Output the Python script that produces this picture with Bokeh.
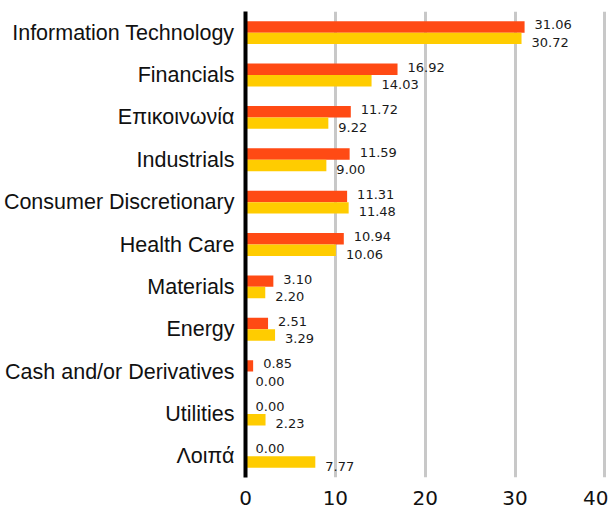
from bokeh.plotting import figure
from bokeh.models import ColumnDataSource, FactorRange, Range1d, FixedTicker
from bokeh.transform import dodge
from bokeh.embed import file_html
from bokeh.resources import INLINE
from bokeh.core.properties import value

categories = ["Information Technology", "Financials", "Επικοινωνία", "Industrials",
              "Consumer Discretionary", "Health Care", "Materials", "Energy",
              "Cash and/or Derivatives", "Utilities", "Λοιπά"]
series_a = [31.06, 16.92, 11.72, 11.59, 11.31, 10.94, 3.10, 2.51, 0.85, 0.00, 0.00]
series_b = [30.72, 14.03, 9.22, 9.00, 11.48, 10.06, 2.20, 3.29, 0.00, 2.23, 7.77]
x_ticks = [0, 10, 20, 30, 40]

src = ColumnDataSource(dict(
    cat=categories, a=series_a, b=series_b,
    la=["%.2f" % v for v in series_a], lb=["%.2f" % v for v in series_b],
))

p = figure(width=608, height=508, output_backend="svg", toolbar_location=None,
           y_range=FactorRange(*reversed(categories), range_padding=0),
           x_range=Range1d(0, 40.4))
p.min_border_left = 0
p.min_border_right = 0
p.min_border_top = 11
p.min_border_bottom = 31
p.outline_line_color = None

p.hbar(y=dodge("cat", 0.135, range=p.y_range), left=0, right="a", height=0.27,
       source=src, color="#FF4A14", line_color=None)
p.hbar(y=dodge("cat", -0.135, range=p.y_range), left=0, right="b", height=0.27,
       source=src, color="#FFCC00", line_color=None)

p.text(x="a", y=dodge("cat", 0.135, range=p.y_range), text="la", source=src,
       x_offset=10, y_offset=-2, text_baseline="middle", text_align="left",
       text_font=value("DejaVu Sans"), text_font_size="13px", text_color="#1a1a1a")
p.text(x="b", y=dodge("cat", -0.135, range=p.y_range), text="lb", source=src,
       x_offset=10, y_offset=4, text_baseline="middle", text_align="left",
       text_font=value("DejaVu Sans"), text_font_size="13px", text_color="#1a1a1a")

p.xgrid.ticker = FixedTicker(ticks=x_ticks)
p.xgrid.grid_line_color = "#C8C8C8"
p.xgrid.grid_line_width = 3
p.ygrid.grid_line_color = None

p.xaxis.ticker = FixedTicker(ticks=x_ticks)
p.xaxis.axis_line_color = None
p.xaxis.major_tick_line_color = None
p.xaxis.minor_tick_line_color = None
p.xaxis.major_label_text_font = "DejaVu Sans"
p.xaxis.major_label_text_font_size = "20px"
p.xaxis.major_label_text_color = "#111111"
p.xaxis.major_label_standoff = 7

p.yaxis.axis_line_color = "#000000"
p.yaxis.axis_line_width = 4
p.yaxis.major_tick_line_color = None
p.yaxis.minor_tick_line_color = None
p.yaxis.major_label_text_font = "Liberation Sans"
p.yaxis.major_label_text_font_size = "21.5px"
p.yaxis.major_label_text_color = "#111111"
p.yaxis.major_label_standoff = 5

open("out.html", "w").write(file_html(p, INLINE))
